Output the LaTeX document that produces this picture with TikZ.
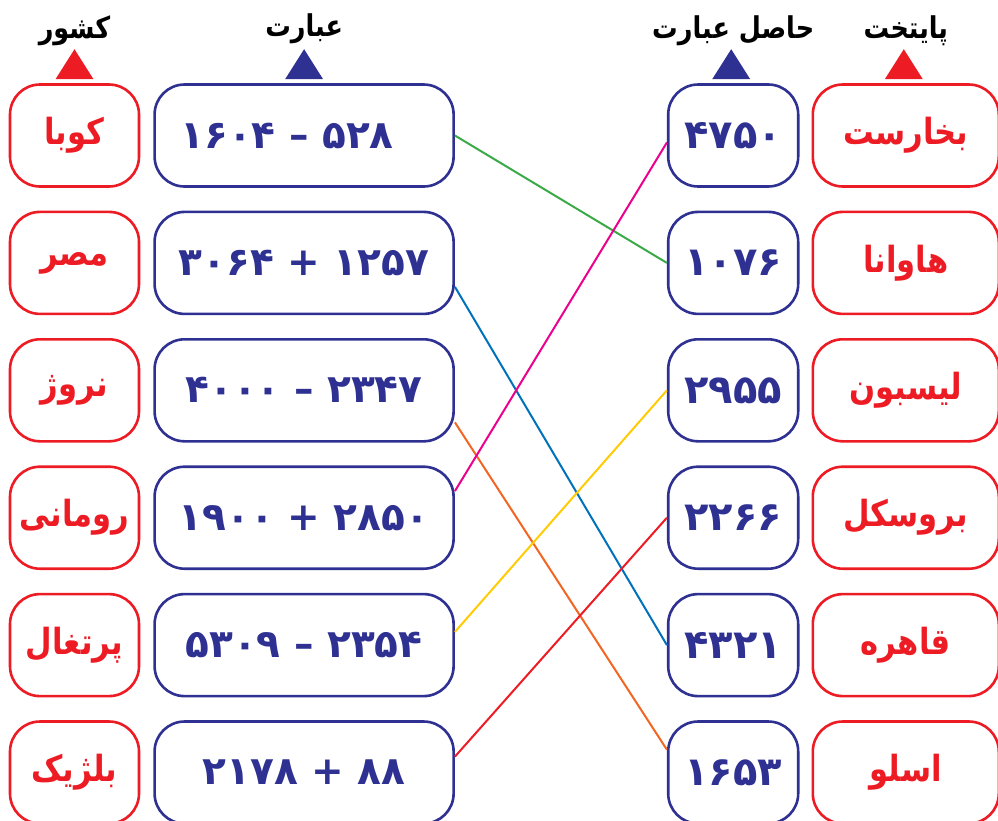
\documentclass[tikz,border=0pt]{standalone}
\usepackage{fontspec}
\setmainfont{DejaVu Sans}
\newfontfamily\fa[Script=Arabic]{DejaVu Sans}
\newfontfamily\fan[Script=Arabic, FakeStretch=0.85]{DejaVu Sans}
\TeXXeTstate=1
\usetikzlibrary{positioning,calc}
\definecolor{navy}{HTML}{2E3192}
\definecolor{cred}{HTML}{ED1C24}
\definecolor{lgreen}{HTML}{3AAA48}
\definecolor{lmag}{HTML}{EC008C}
\definecolor{lblue}{HTML}{0072BC}
\definecolor{lorange}{HTML}{F26522}
\definecolor{lyellow}{HTML}{FFCB05}

\begin{document}
\begin{tikzpicture}[x=1pt, y=1pt,
  box/.style={rectangle, draw, rounded corners=30pt, line width=2.6pt, minimum height=102pt, inner sep=0pt},
  country/.style={box, draw=cred, text=cred, minimum width=129pt, font=\fan\bfseries\fontsize{36}{40}\selectfont},
  expr/.style={box, draw=navy, text=navy, minimum width=299pt, font=\fa\bfseries\fontsize{39}{44}\selectfont},
  result/.style={box, draw=navy, text=navy, minimum width=130pt, font=\fa\bfseries\fontsize{40}{44}\selectfont},
  capital/.style={box, draw=cred, text=cred, minimum width=186pt, font=\fan\bfseries\fontsize{36}{40}\selectfont},
  head/.style={inner sep=0pt, font=\fan\bfseries\fontsize{30}{34}\selectfont},
  link/.style={line width=2pt},
  node distance=22.8pt]
\useasboundingbox (0,0) rectangle (998,-820);

\node (c1) [country] at (74.5,-135.5) {\beginR کوبا\endR};
\node (c2) [country, below=of c1] {\beginR مصر\endR};
\node (c3) [country, below=of c2] {\beginR نروژ\endR};
\node (c4) [country, below=of c3] {\beginR رومانی\endR};
\node (c5) [country, below=of c4] {\beginR پرتغال\endR};
\node (c6) [country, below=of c5] {\beginR بلژیک\endR};

\node (e1) [expr, right=13pt of c1] {\beginR ۵۲۸ – ۱۶۰۴\endR\hspace*{34pt}};
\node (e2) [expr, right=13pt of c2] {\beginR ۱۲۵۷ + ۳۰۶۴\endR};
\node (e3) [expr, right=13pt of c3] {\beginR ۲۳۴۷ – ۴۰۰۰\endR};
\node (e4) [expr, right=13pt of c4] {\beginR ۲۸۵۰ + ۱۹۰۰\endR};
\node (e5) [expr, right=13pt of c5] {\beginR ۲۳۵۴ – ۵۳۰۹\endR};
\node (e6) [expr, right=13pt of c6] {\beginR ۸۸ + ۲۱۷۸\endR};

\node (r1) [result, right=212pt of e1] {۴۷۵۰};
\node (r2) [result, right=212pt of e2] {۱۰۷۶};
\node (r3) [result, right=212pt of e3] {۲۹۵۵};
\node (r4) [result, right=212pt of e4] {۲۲۶۶};
\node (r5) [result, right=212pt of e5] {۴۳۲۱};
\node (r6) [result, right=212pt of e6] {۱۶۵۳};

\node (p1) [capital, right=12pt of r1] {\beginR بخارست\endR};
\node (p2) [capital, right=12pt of r2] {\beginR هاوانا\endR};
\node (p3) [capital, right=12pt of r3] {\beginR لیسبون\endR};
\node (p4) [capital, right=12pt of r4] {\beginR بروسکل\endR};
\node (p5) [capital, right=12pt of r5] {\beginR قاهره\endR};
\node (p6) [capital, right=12pt of r6] {\beginR اسلو\endR};

\fill[cred] ($(c1.north)+(-19,4)$) -- ++(38,0) -- ++(-19,30) -- cycle;
\fill[navy] ($(e1.north)+(-19,4)$) -- ++(38,0) -- ++(-19,30) -- cycle;
\fill[navy] ($(r1.north)+(-21,4)$) -- ++(38,0) -- ++(-19,30) -- cycle;
\fill[cred] ($(p1.north)+(-21,4)$) -- ++(38,0) -- ++(-19,30) -- cycle;

\node (hc) [head, above=37pt of c1] {\beginR کشور\endR};
\node (he) [head, above=39pt of e1] {\beginR عبارت\endR};
\node (hr) [head, above=37pt of r1] {\beginR حاصل عبارت\endR};
\node (hp) [head, above=37pt of p1] {\beginR پایتخت\endR};

\draw[link, lgreen] (e1.east) -- (r2.west);
\draw[link, lblue] (e2.-9) -- (r5.west);
\draw[link, lorange] (e3.-12) -- (r6.161);
\draw[link, lmag] (e4.10) -- (r1.186);
\draw[link, lyellow] (e5.5) -- (r3.west);
\draw[link, cred] (e6.6) -- (r4.west);
\end{tikzpicture}
\end{document}
